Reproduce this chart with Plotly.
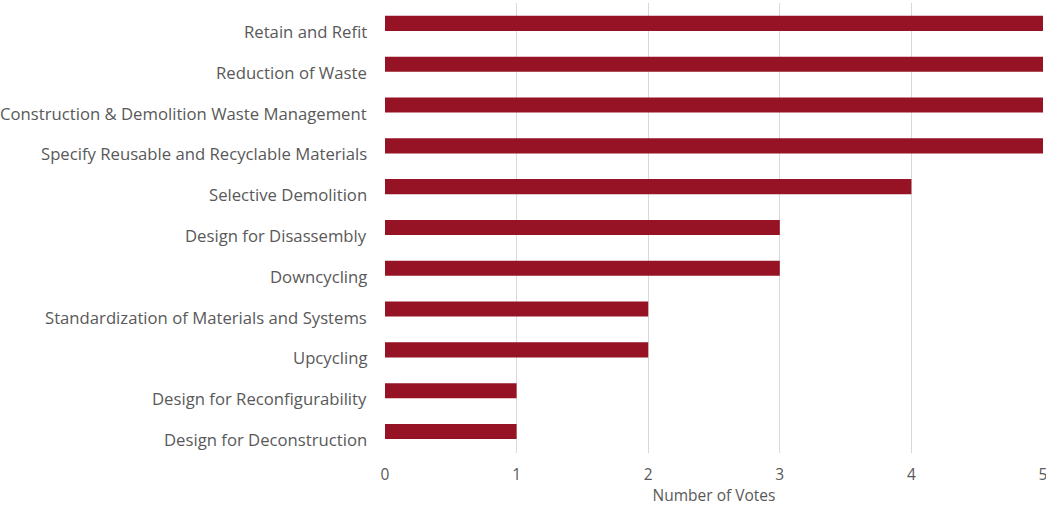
import plotly.graph_objects as go

# Strategies, listed top to bottom, with the number of votes each received
strategies = [
    "Retain and Refit",
    "Reduction of Waste",
    "Construction & Demolition Waste Management",
    "Specify Reusable and Recyclable Materials",
    "Selective Demolition",
    "Design for Disassembly",
    "Downcycling ",
    "Standardization of Materials and Systems",
    "Upcycling ",
    "Design for Reconfigurability",
    "Design for Deconstruction",
]
votes = [5, 5, 5, 5, 4, 3, 3, 2, 2, 1, 1]
x_ticks = [0, 1, 2, 3, 4, 5]

text_color = "#595959"
font_family = "Open Sans, Lato, sans-serif"
label_size = 16.7

fig = go.Figure(
    go.Bar(
        x=votes,
        y=strategies,
        orientation="h",
        marker=dict(color="#951324", line=dict(width=0)),
    )
)

# Category labels sit slightly below each bar's centre line
for name in strategies:
    fig.add_annotation(
        x=0, xref="paper", xanchor="right", xshift=-16,
        y=name, yref="y", yanchor="middle", yshift=-8,
        text=name.rstrip(), showarrow=False,
        font=dict(family=font_family, size=label_size, color=text_color),
    )

fig.update_layout(
    width=1046,
    height=506,
    margin=dict(l=385, r=3, t=3, b=53, autoexpand=False),
    paper_bgcolor="white",
    plot_bgcolor="white",
    bargap=0.63,
    showlegend=False,
    font=dict(family=font_family, size=label_size, color=text_color),
)

fig.update_xaxes(
    range=[0, 5],
    tickvals=x_ticks,
    automargin=False,
    showgrid=True,
    gridcolor="#d9d9d9",
    gridwidth=1,
    zeroline=False,
    showline=False,
    ticks="",
    ticklabelstandoff=10,
    ticklabeloverflow="allow",
    tickfont=dict(size=15.5, color=text_color),
    title=dict(text="Number of Votes", font=dict(size=15.5, color=text_color), standoff=9),
)

fig.update_yaxes(
    categoryorder="array",
    categoryarray=strategies[::-1],
    automargin=False,
    showgrid=False,
    zeroline=False,
    showline=False,
    ticks="",
    showticklabels=False,
)

fig.write_html("out.html")
